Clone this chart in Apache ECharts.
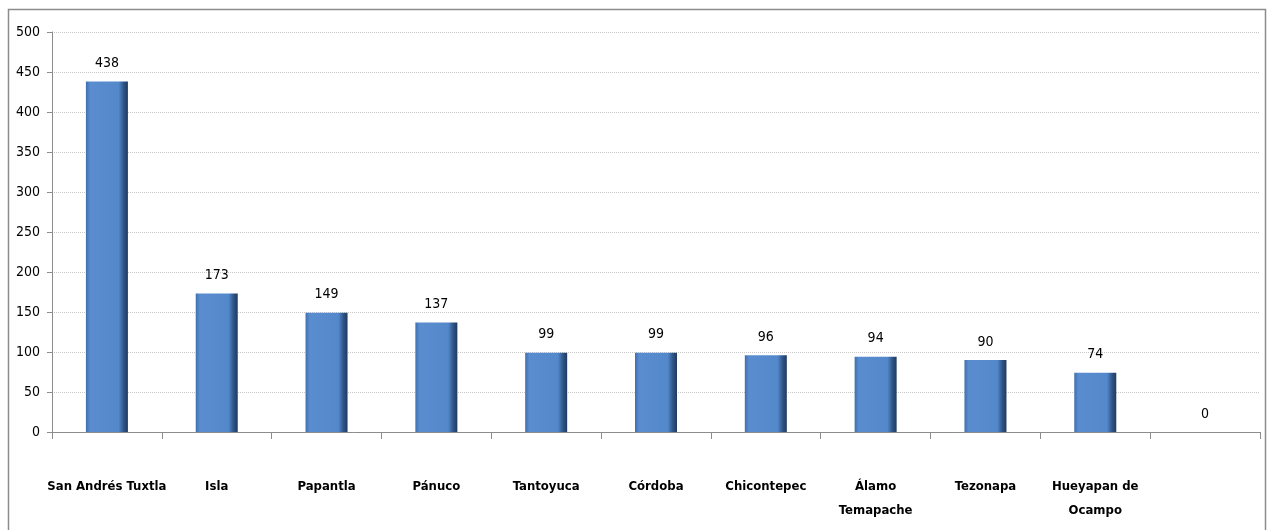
<!DOCTYPE html>
<html><head><meta charset="utf-8">
<script src="https://cdn.jsdelivr.net/npm/echarts@6/dist/echarts.min.js"></script>
<style>html,body{margin:0;padding:0;background:#fff}#c{width:1267px;height:530px}</style>
</head><body><div id="c"></div>
<script>
const categories = ['San Andrés Tuxtla','Isla','Papantla','Pánuco','Tantoyuca','Córdoba','Chicontepec','Álamo\nTemapache','Tezonapa','Hueyapan de\nOcampo',''];
const values = [438,173,149,137,99,99,96,94,90,74,0];
const yTicks = {min:0,max:500,interval:50};
const font = '"DejaVu Sans Condensed","Liberation Sans Narrow",Arial,sans-serif';
const chart = echarts.init(document.getElementById('c'));
chart.setOption({
  animation:false,
  graphic:[{type:'rect',shape:{x:8.5,y:9.5,width:1257,height:530},style:{fill:'none',stroke:'#8c8c8c',lineWidth:1.5},silent:true,z:-1}],
  grid:{left:52,right:7,top:32,bottom:98},
  xAxis:{type:'category',data:categories,
    axisLine:{lineStyle:{color:'#8c8c8c',width:1}},
    axisTick:{show:true,length:7,lineStyle:{color:'#8c8c8c'},alignWithLabel:false},
    axisLabel:{interval:0,margin:43,color:'#000',fontFamily:font,fontWeight:'bold',fontSize:13,lineHeight:24,verticalAlign:'top'}},
  yAxis:{type:'value',min:yTicks.min,max:yTicks.max,interval:yTicks.interval,
    axisLine:{show:true,lineStyle:{color:'#8c8c8c'}},
    axisTick:{show:true,length:5,lineStyle:{color:'#8c8c8c'}},
    axisLabel:{color:'#000',fontFamily:font,fontSize:14,margin:12},
    splitLine:{lineStyle:{color:'#c8c8c8',type:'dotted'}}},
  series:[{type:'bar',data:values,barWidth:42,
    itemStyle:{color:new echarts.graphic.LinearGradient(0,0,1,0,[
      {offset:0,color:'#3f6fae'},{offset:0.1,color:'#5a8dd0'},{offset:0.78,color:'#5388cb'},{offset:0.9,color:'#2f5586'},{offset:1,color:'#1f3a60'}]),
      borderWidth:0},
    label:{show:true,position:'top',distance:11,color:'#000',fontFamily:font,fontSize:14}}]
});
</script></body></html>
